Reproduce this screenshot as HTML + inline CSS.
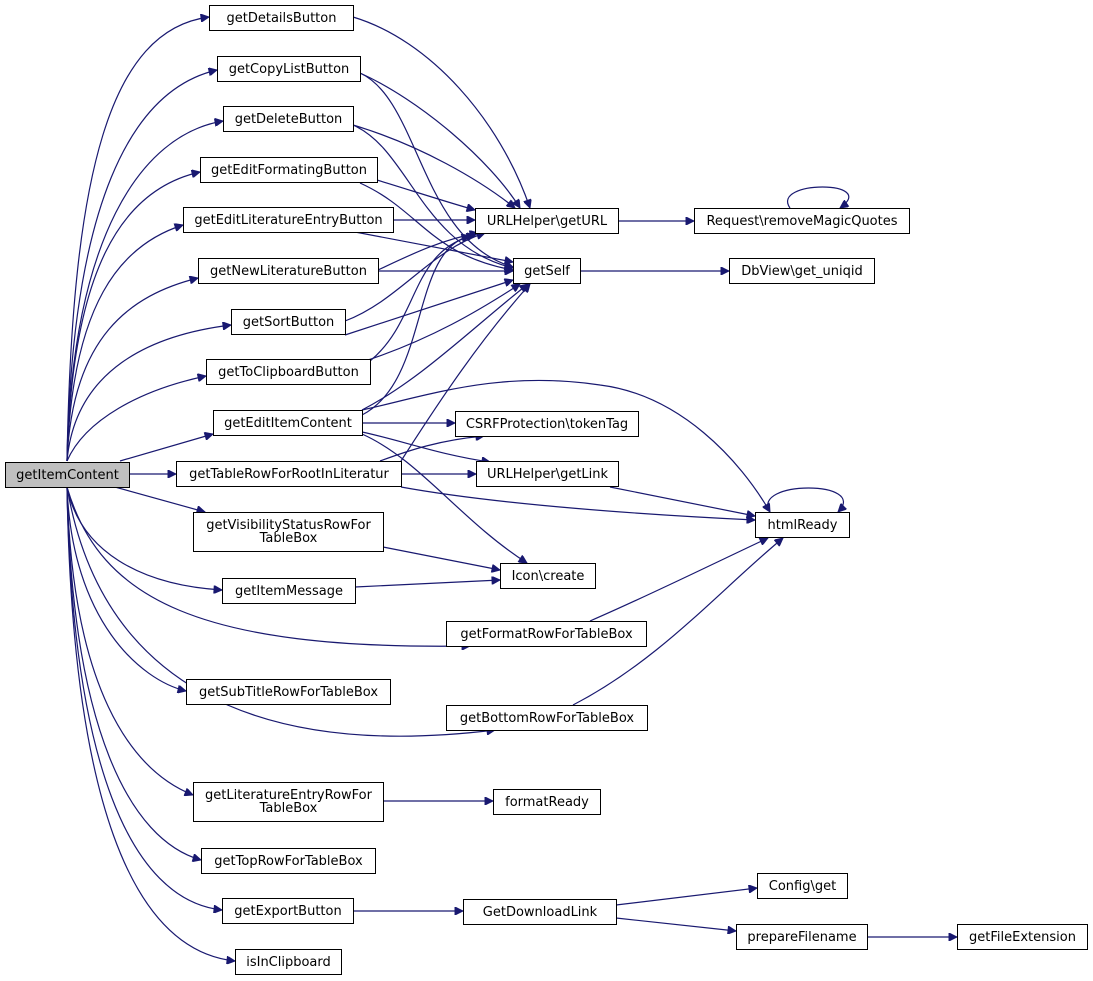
<!DOCTYPE html>
<html><head><meta charset="utf-8"><style>
body{margin:0;background:#fff;width:1093px;height:981px;position:relative;overflow:hidden;font-family:"DejaVu Sans","Liberation Sans",sans-serif;font-size:13px;color:#000}
.n{position:absolute;box-sizing:border-box;border:1px solid #000;background:#fff;display:flex;align-items:center;justify-content:center;text-align:center;line-height:13px;white-space:nowrap}
svg{position:absolute;left:0;top:0}
path{fill:none;stroke:#191970;stroke-width:1.2}
</style></head><body>
<svg width="1093" height="981" viewBox="0 0 1093 981">
<defs><marker id="a" viewBox="0 0 10 10" refX="10" refY="5" markerWidth="10" markerHeight="8" orient="auto" markerUnits="userSpaceOnUse"><path d="M0,0L10,5L0,10z" style="fill:#191970;stroke:#191970"/></marker></defs>
<g marker-end="url(#a)">
<path d="M67,461 C72,172 110,30 209,17"/>
<path d="M67,461 C72,206 130,90 217,70"/>
<path d="M67,461 C72,238 140,135 223,121"/>
<path d="M67,461 C72,272 120,190 200,172"/>
<path d="M67,461 C72,304 120,245 183,225"/>
<path d="M67,461 C72,337 130,295 198,278"/>
<path d="M67,461 C75,370 150,335 231,325"/>
<path d="M67,461 C85,420 140,390 206,376"/>
<path d="M120,461 L213,434"/>
<path d="M129,474 L176,474"/>
<path d="M115,487 L205,512"/>
<path d="M67,487 C80,551 140,585 222,590"/>
<path d="M67,487 C72,620 140,680 186,691"/>
<path d="M67,487 C72,687 130,770 193,795"/>
<path d="M67,487 C72,729 130,840 201,860"/>
<path d="M67,487 C72,762 130,900 222,910"/>
<path d="M67,487 C72,795 130,950 235,961"/>
<path d="M67,487 C100,600 200,650 470,646"/>
<path d="M67,487 C100,680 250,760 495,730"/>
<!-- to getURL -->
<path d="M353,17 C430,40 500,120 530,208"/>
<path d="M360,73 C420,100 490,160 520,208"/>
<path d="M353,125 C420,145 480,180 515,208"/>
<path d="M377,180 C410,190 440,200 475,210"/>
<path d="M393,220 L475,220"/>
<path d="M378,270 C410,255 440,240 478,233"/>
<path d="M345,321 C400,300 430,250 485,233"/>
<path d="M370,361 C420,320 410,250 475,235"/>
<path d="M362,415 C430,380 410,250 470,236"/>
<!-- to getSelf -->
<path d="M360,73 C420,100 420,240 513,267"/>
<path d="M353,125 C410,150 420,245 513,268"/>
<path d="M360,183 C420,210 430,255 513,270"/>
<path d="M355,232 L513,262"/>
<path d="M378,271 L513,271"/>
<path d="M345,335 L513,280"/>
<path d="M362,362 C430,340 480,310 520,284"/>
<path d="M362,410 C420,380 470,330 528,284"/>
<path d="M401,461 C440,400 480,340 530,284"/>
<!-- others -->
<path d="M618,221 L694,221"/>
<path d="M581,271 L729,271"/>
<path d="M362,423 L455,423"/>
<path d="M362,432 C400,440 440,455 490,462"/>
<path d="M362,434 C420,460 460,520 527,563"/>
<path d="M362,410 C430,395 500,370 600,385 C680,395 740,460 770,512"/>
<path d="M401,474 L476,474"/>
<path d="M380,461 C410,450 440,440 484,436"/>
<path d="M401,487 C500,505 650,515 755,520"/>
<path d="M610,487 L755,516"/>
<path d="M383,547 L500,570"/>
<path d="M355,587 L500,580"/>
<path d="M590,621 C650,595 700,570 768,538"/>
<path d="M573,705 C660,660 720,590 783,538"/>
<path d="M383,801 L493,801"/>
<path d="M353,911 L463,911"/>
<path d="M616,905 L757,888"/>
<path d="M616,918 L736,931"/>
<path d="M867,937 L957,937"/>
<path d="M790,208 C770,180 880,180 840,208"/>
<path d="M770,512 C750,480 870,480 838,512"/>
</g>
</svg>
<div class="n" style="left:5px;top:462px;width:125px;height:26px;background:#bfbfbf">getItemContent</div>
<div class="n" style="left:209px;top:5px;width:145px;height:26px">getDetailsButton</div>
<div class="n" style="left:217px;top:56px;width:144px;height:26px">getCopyListButton</div>
<div class="n" style="left:223px;top:106px;width:131px;height:26px">getDeleteButton</div>
<div class="n" style="left:200px;top:157px;width:178px;height:26px">getEditFormatingButton</div>
<div class="n" style="left:183px;top:207px;width:211px;height:26px">getEditLiteratureEntryButton</div>
<div class="n" style="left:198px;top:258px;width:181px;height:26px">getNewLiteratureButton</div>
<div class="n" style="left:231px;top:309px;width:115px;height:26px">getSortButton</div>
<div class="n" style="left:206px;top:359px;width:165px;height:26px">getToClipboardButton</div>
<div class="n" style="left:213px;top:410px;width:150px;height:26px">getEditItemContent</div>
<div class="n" style="left:176px;top:461px;width:226px;height:26px">getTableRowForRootInLiteratur</div>
<div class="n" style="left:193px;top:512px;width:191px;height:40px">getVisibilityStatusRowFor<br>TableBox</div>
<div class="n" style="left:222px;top:578px;width:134px;height:26px">getItemMessage</div>
<div class="n" style="left:186px;top:679px;width:205px;height:26px">getSubTitleRowForTableBox</div>
<div class="n" style="left:193px;top:782px;width:191px;height:40px">getLiteratureEntryRowFor<br>TableBox</div>
<div class="n" style="left:201px;top:848px;width:175px;height:26px">getTopRowForTableBox</div>
<div class="n" style="left:222px;top:898px;width:132px;height:26px">getExportButton</div>
<div class="n" style="left:235px;top:949px;width:107px;height:26px">isInClipboard</div>
<div class="n" style="left:475px;top:208px;width:144px;height:26px">URLHelper\getURL</div>
<div class="n" style="left:513px;top:258px;width:68px;height:26px">getSelf</div>
<div class="n" style="left:455px;top:411px;width:184px;height:26px">CSRFProtection\tokenTag</div>
<div class="n" style="left:476px;top:461px;width:143px;height:26px">URLHelper\getLink</div>
<div class="n" style="left:500px;top:563px;width:96px;height:26px">Icon\create</div>
<div class="n" style="left:446px;top:621px;width:201px;height:26px">getFormatRowForTableBox</div>
<div class="n" style="left:446px;top:705px;width:202px;height:26px">getBottomRowForTableBox</div>
<div class="n" style="left:493px;top:789px;width:108px;height:26px">formatReady</div>
<div class="n" style="left:463px;top:899px;width:154px;height:26px">GetDownloadLink</div>
<div class="n" style="left:694px;top:208px;width:216px;height:26px">Request\removeMagicQuotes</div>
<div class="n" style="left:729px;top:258px;width:146px;height:26px">DbView\get_uniqid</div>
<div class="n" style="left:755px;top:512px;width:95px;height:26px">htmlReady</div>
<div class="n" style="left:757px;top:873px;width:91px;height:26px">Config\get</div>
<div class="n" style="left:736px;top:924px;width:132px;height:26px">prepareFilename</div>
<div class="n" style="left:957px;top:924px;width:131px;height:26px">getFileExtension</div>
</body></html>
